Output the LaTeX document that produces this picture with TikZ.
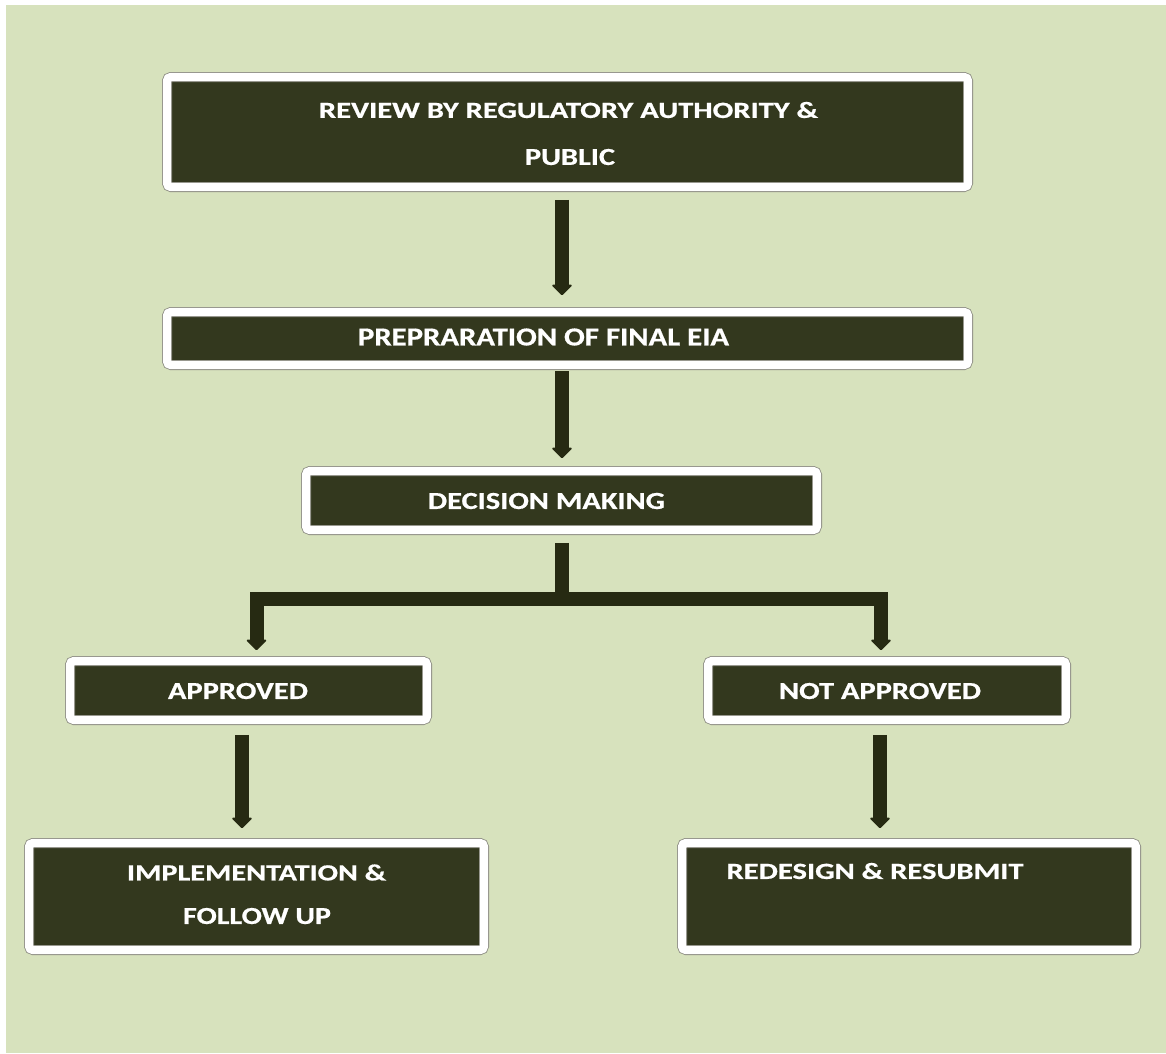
\documentclass[tikz,border=0pt]{standalone}
\usepackage{fontspec}
\setmainfont{Carlito}[BoldFeatures={FakeBold=0.6}]
\usetikzlibrary{arrows.meta,shadows,calc}
\definecolor{bgc}{HTML}{D7E2BD}
\definecolor{boxfill}{HTML}{33381E}
\definecolor{arrowc}{HTML}{262A12}
\definecolor{framec}{HTML}{8A8A80}
\newcommand{\fittxt}[3]{\resizebox{#1pt}{#2pt}{\bfseries #3}}
\begin{document}
\begin{tikzpicture}[x=1pt,y=-1pt,
  box/.style={draw=framec, line width=0.8pt, double=white, double distance=8.4pt,
    fill=boxfill, rounded corners=4pt, inner sep=0pt,
    drop shadow={shadow xshift=1pt, shadow yshift=-4pt, opacity=0.4}},
  txt/.style={text=white, inner sep=0pt, anchor=center},
  tipstyle/.tip={Triangle[width=22pt,length=11pt,line width=2pt,round]},
  arr/.style={draw=arrowc, line width=14pt, -tipstyle},
  bar/.style={draw=arrowc, line width=14pt}]
% background
\fill[white] (0,0) rectangle (1166,1053);
\fill[bgc] (6,5) rectangle (1166,1053);
% boxes
\node[box, minimum width=801pt, minimum height=110pt] (top) at (567.5,132) {};
\node[box, minimum width=801pt, minimum height=53pt] (prep) at (567.5,338.5) {};
\node[box, minimum width=511pt, minimum height=59pt] (dec) at (561.5,500.5) {};
\node[box, minimum width=357pt, minimum height=59pt] (app) at (248.5,690.5) {};
\node[box, minimum width=358pt, minimum height=59pt] (napp) at (887,690.5) {};
\node[box, minimum width=455pt, minimum height=107pt] (impl) at (256.5,896.5) {};
\node[box, minimum width=454pt, minimum height=107pt] (red) at (909,896.5) {};
% texts
\node[txt] (t1a) at (568.5,110) {\fittxt{499}{16}{REVIEW BY REGULATORY AUTHORITY \&}};
\node[txt] (t1b) at (570,157) {\fittxt{90}{16}{PUBLIC}};
\node[txt] (t2) at (543.5,337) {\fittxt{371}{17}{PREPRARATION OF FINAL EIA}};
\node[txt] (t3) at (546.5,501) {\fittxt{237}{16}{DECISION MAKING}};
\node[txt] (t4) at (238,691) {\fittxt{140}{16}{APPROVED}};
\node[txt] (t5) at (880,691) {\fittxt{202}{16}{NOT APPROVED}};
\node[txt] (t6a) at (256.5,872.5) {\fittxt{259}{16}{IMPLEMENTATION \&}};
\node[txt] (t6b) at (257,916) {\fittxt{148}{16}{FOLLOW UP}};
\node[txt] (t7) at (875,871) {\fittxt{297}{16}{REDESIGN \& RESUBMIT}};
% connectors
\draw[arr] ([xshift=-5.5pt,yshift=-12.5pt]top.south) -- ([xshift=-5.5pt,yshift=16.5pt]prep.north);
\draw[arr] ([xshift=-5.5pt,yshift=-6pt]prep.south) -- ([xshift=0.5pt,yshift=12.5pt]dec.north);
\coordinate (jm) at (562,598.5);
\coordinate (jl) at (256.5,598.5);
\coordinate (jr) at (881,598.5);
\draw[bar] ([xshift=0.5pt,yshift=-12.5pt]dec.south) -- (jm);
\draw[draw=arrowc, line width=14pt, line join=miter, tipstyle-tipstyle]
  ([xshift=8pt,yshift=10.5pt]app.north) -- (jl) -- (jr) -- ([xshift=-6pt,yshift=10.5pt]napp.north);
\draw[arr] ([xshift=-6.5pt,yshift=-14.5pt]app.south) -- ([xshift=-14.5pt,yshift=14.5pt]impl.north);
\draw[arr] ([xshift=-7pt,yshift=-14.5pt]napp.south) -- ([xshift=-29pt,yshift=14.5pt]red.north);
\end{tikzpicture}
\end{document}
